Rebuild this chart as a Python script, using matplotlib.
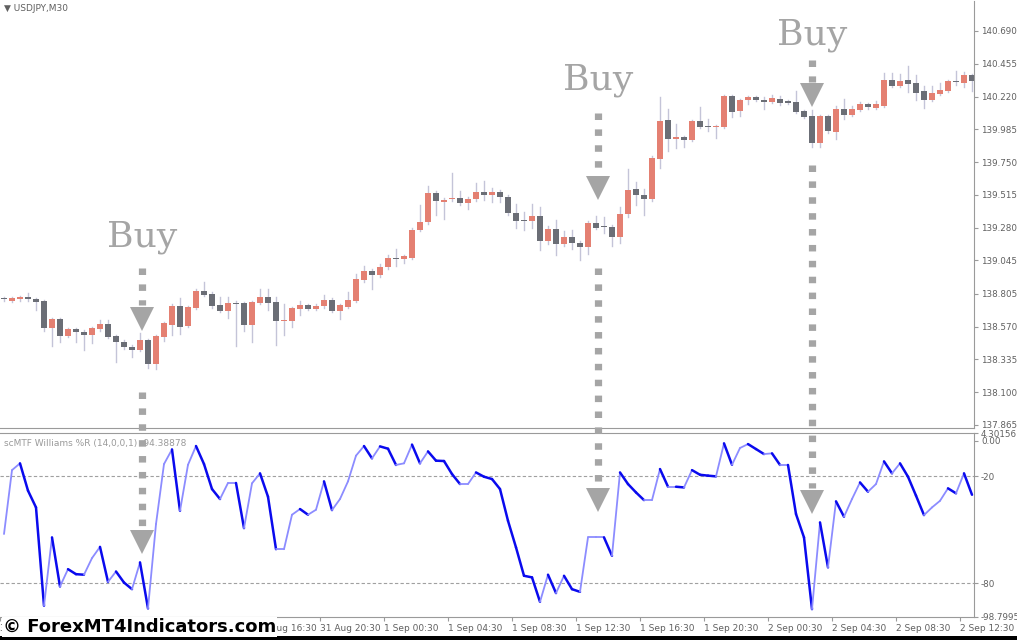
import matplotlib
matplotlib.use("Agg")
import matplotlib.pyplot as plt
from matplotlib.patches import Rectangle, Polygon
import numpy as np

opens = [138.772,138.753,138.767,138.779,138.765,138.751,138.558,138.622,138.503,138.551,
138.534,138.510,138.551,138.586,138.501,138.463,138.427,138.403,138.472,138.303,
138.496,138.582,138.715,138.575,138.703,138.829,138.801,138.722,138.682,138.741,
138.737,138.582,138.739,138.779,138.744,138.610,138.610,138.696,138.722,138.696,
138.715,138.758,138.682,138.710,138.753,138.903,138.972,138.939,138.994,139.065,
139.053,139.065,139.265,139.318,139.530,139.461,139.482,139.494,139.454,139.482,
139.537,139.511,139.537,139.501,139.387,139.330,139.325,139.366,139.182,139.273,
139.161,139.215,139.173,139.139,139.316,139.294,139.287,139.211,139.375,139.559,
139.516,139.482,139.775,140.052,139.918,139.930,139.911,140.045,140.009,140.002,
140.002,140.224,140.119,140.197,140.216,140.195,140.183,140.202,140.188,140.181,
140.116,140.081,139.890,140.081,139.968,140.131,140.090,140.126,140.166,140.140,
140.154,140.338,140.297,140.338,140.316,140.259,140.197,140.240,140.262,140.331,
140.319,140.374]
closes = [138.767,138.772,138.779,138.767,138.746,138.558,138.622,138.503,138.551,138.529,
138.510,138.558,138.586,138.496,138.458,138.422,138.403,138.472,138.303,138.503,
138.594,138.715,138.567,138.708,138.822,138.796,138.715,138.682,138.741,138.732,
138.582,138.744,138.779,138.739,138.610,138.615,138.701,138.722,138.696,138.715,
138.758,138.682,138.722,138.758,138.908,138.972,138.939,139.001,139.065,139.053,
139.073,139.265,139.323,139.530,139.468,139.480,139.494,139.454,139.487,139.537,
139.511,139.537,139.497,139.382,139.325,139.325,139.366,139.182,139.273,139.161,
139.215,139.168,139.139,139.316,139.280,139.282,139.211,139.380,139.551,139.511,
139.482,139.780,140.045,139.918,139.930,139.911,140.045,140.002,140.002,140.009,
140.224,140.111,140.195,140.216,140.197,140.183,140.209,140.176,140.176,140.111,
140.076,139.890,140.081,139.976,140.131,140.090,140.131,140.164,140.147,140.166,
140.338,140.297,140.331,140.312,140.247,140.197,140.247,140.266,140.331,140.321,
140.374,140.331]
wick_up = [.01,.01,.01,.03,.01,.01,.01,.01,.01,.01,.01,.01,.03,.03,.01,.01,.01,.05,.01,.01,
.01,.02,.06,.01,.02,.06,.02,.06,.04,.01,.01,.01,.06,.06,.04,.12,.01,.03,.01,.02,
.04,.02,.01,.06,.04,.03,.01,.02,.02,.06,.01,.01,.12,.05,.01,.01,.18,.05,.01,.06,
.08,.03,.01,.01,.06,.06,.08,.06,.02,.06,.04,.05,.01,.01,.05,.06,.01,.05,.15,.05,
.04,.01,.17,.08,.09,.01,.01,.10,.05,.01,.01,.01,.01,.01,.01,.02,.02,.02,.01,.08,
.01,.04,.01,.01,.02,.07,.02,.02,.01,.02,.05,.05,.05,.10,.06,.04,.05,.05,.01,.07,
.02,.01]
wick_dn = [.01,.01,.01,.01,.06,.02,.13,.04,.01,.07,.11,.06,.01,.01,.14,.01,.05,.01,.03,.04,
.03,.07,.05,.01,.01,.01,.01,.01,.05,.30,.04,.12,.01,.05,.17,.10,.04,.04,.01,.01,
.01,.01,.06,.01,.01,.01,.10,.01,.01,.05,.03,.01,.01,.01,.10,.12,.01,.01,.04,.01,
.03,.05,.03,.01,.05,.06,.05,.06,.02,.08,.01,.04,.09,.05,.01,.04,.06,.04,.02,.07,
.11,.01,.07,.09,.07,.05,.01,.01,.03,.08,.01,.04,.04,.03,.01,.05,.01,.02,.01,.01,
.01,.03,.03,.02,.05,.03,.01,.01,.02,.01,.01,.01,.01,.06,.05,.06,.01,.01,.01,.02,
.03,.07]
wpr = [-52.3,-16.5,-12.7,-28.0,-37.4,-92.5,-54.2,-81.7,-72.0,-74.8,-75.1,-65.8,-59.5,-79.1,
-73.3,-79.5,-83.2,-68.2,-94.0,-46.7,-13.1,-4.9,-39.3,-13.5,-3.0,-13.1,-27.1,-32.7,-23.7,
-23.7,-49.0,-23.9,-18.3,-31.4,-60.8,-60.8,-41.5,-38.3,-41.5,-38.7,-22.8,-38.9,-32.7,-22.8,
-8.4,-3.0,-9.9,-3.2,-4.5,-13.6,-12.7,-2.2,-12.7,-6.0,-11.2,-11.4,-18.7,-24.3,-24.3,-17.8,
-20.2,-21.5,-27.1,-44.9,-59.8,-75.7,-76.6,-90.3,-75.1,-85.4,-75.7,-83.2,-84.7,-54.2,-54.2,
-54.2,-64.5,-17.8,-24.3,-29.0,-33.3,-33.3,-15.9,-25.8,-25.8,-26.2,-16.5,-19.1,-19.6,-20.0,
-1.5,-13.5,-4.1,-1.9,-4.7,-7.5,-7.1,-13.6,-13.6,-41.1,-54.2,-94.4,-45.8,-71.0,-34.0,-42.6,
-32.7,-23.4,-28.6,-24.3,-11.6,-18.3,-12.7,-20.2,-30.8,-41.7,-37.4,-33.7,-26.7,-29.5,-18.3,-30.3]

price_ticks = [140.690,140.455,140.220,139.985,139.750,139.515,139.280,139.045,138.805,138.570,138.335,138.100,137.865]
time_tick_pos = [-0.5,7.5,15.5,23.5,31.5,39.5,47.5,55.5,63.5,71.5,79.5,87.5,95.5,103.5,111.5,119.5]
time_labels = ["31 Aug 00:30","31 Aug 04:30","31 Aug 08:30","31 Aug 12:30","31 Aug 16:30","31 Aug 20:30",
               "1 Sep 00:30","1 Sep 04:30","1 Sep 08:30","1 Sep 12:30","1 Sep 16:30","1 Sep 20:30",
               "2 Sep 00:30","2 Sep 04:30","2 Sep 08:30","2 Sep 12:30"]

W, H = 1017, 640
fig = plt.figure(figsize=(W/100, H/100), dpi=100)
fig.patch.set_facecolor("white")
GRAY = "#9a9a9a"
TXT = "#606060"
UP = "#e48072"
DN = "#6b6e76"
XL = (-0.5, 121.25)

ax = fig.add_axes([0, 1-428/H, 974/W, 427/H])
ax.set_xlim(*XL)
ax.set_ylim(137.843, 140.905)
for i, (o, c) in enumerate(zip(opens, closes)):
    hi = max(o, c) + wick_up[i]
    lo = min(o, c) - wick_dn[i]
    ax.plot([i, i], [lo, hi], color="#c4c4d8", lw=1, zorder=1)
    col = UP if c >= o else DN
    h = max(abs(c - o), 0.006)
    ax.add_patch(Rectangle((i - 0.42, min(o, c)), 0.84, h, facecolor=col, edgecolor=col, lw=0, zorder=2))
ax.yaxis.tick_right()
ax.set_yticks(price_ticks)
ax.set_yticklabels([f"{v:.3f}" for v in price_ticks], fontsize=6.3, color=TXT)
ax.tick_params(axis="y", length=3, color=GRAY, pad=2)
ax.set_xticks([])
for s in ["top", "left"]:
    ax.spines[s].set_visible(False)
ax.spines["right"].set_color(GRAY)
ax.spines["bottom"].set_color(GRAY)
ax.text(0.004, 0.992, "\u25bc USDJPY,M30", transform=ax.transAxes, fontsize=6.5, color=TXT, va="top", ha="left")

ax2 = fig.add_axes([0, 1-617/H, 974/W, 184/H])
ax2.set_xlim(*XL)
ax2.set_ylim(-98.79955, 4.30156)
x = np.arange(len(wpr))
for i in range(len(wpr)-1):
    falling = wpr[i+1] < wpr[i]
    ax2.plot(x[i:i+2], wpr[i:i+2], color="#0a0aee" if falling else "#8c8cff",
             lw=1.8 if falling else 1.3, solid_capstyle="round", zorder=3)
for lvl in (-20, -80):
    ax2.axhline(lvl, color="#a0a0a0", lw=0.8, ls=(0, (3, 2)), zorder=1)
ax2.yaxis.tick_right()
ax2.set_yticks([4.30156, 0, -20, -80, -98.79955])
ax2.set_yticklabels(["4.30156", "0.00", "-20", "-80", "-98.79955"], fontsize=6.3, color=TXT)
ax2.tick_params(axis="y", length=3, color=GRAY, pad=2)
ax2.set_xticks(time_tick_pos)
ax2.set_xticklabels(time_labels, fontsize=6.5, color=TXT, ha="left")
ax2.tick_params(axis="x", length=3, color=GRAY, pad=2)
ax2.spines["left"].set_visible(False)
for s in ["top", "right", "bottom"]:
    ax2.spines[s].set_color(GRAY)
ax2.text(0.004, 0.97, "scMTF Williams %R (14,0,0,1) -94.38878", transform=ax2.transAxes,
         fontsize=6.5, color="#9a9a9a", va="top", ha="left")

ov = fig.add_axes([0, 0, 1, 1], zorder=10)
ov.set_xlim(0, W); ov.set_ylim(H, 0); ov.axis("off")
ov.patch.set_alpha(0)
AC = "#a5a5a5"
def dashed(xc, y0, y1):
    ov.plot([xc, xc], [y0, y1], color=AC, lw=5.2, ls=(0, (0.9, 1.3)), solid_capstyle="butt", dash_capstyle="butt")
def head(xc, ytop):
    ov.add_patch(Polygon([[xc-12, ytop], [xc+12, ytop], [xc, ytop+24]], closed=True, color=AC, lw=0))
ov.text(142, 237, "Buy", fontsize=26, family="DejaVu Serif", color=AC, ha="center", va="center")
dashed(142, 268, 305); head(142, 307)
dashed(142, 392, 528); head(142, 530)
ov.text(598, 80, "Buy", fontsize=26, family="DejaVu Serif", color=AC, ha="center", va="center")
dashed(598, 113, 173); head(598, 176)
dashed(598, 268, 485); head(598, 488)
ov.text(812, 35, "Buy", fontsize=26, family="DejaVu Serif", color=AC, ha="center", va="center")
dashed(812, 60, 82); head(812, 83)
dashed(812, 165, 488); head(812, 490)

ov.add_patch(Rectangle((0, 636), W, 4, color="black", lw=0))
ov.text(3, 627, "\u00a9 ForexMT4Indicators.com", fontsize=13, fontweight="bold", color="black",
        ha="left", va="center", family="DejaVu Sans",
        bbox=dict(facecolor="white", edgecolor="none", pad=0.5))

fig.savefig("out.png", dpi=100, facecolor="white")
